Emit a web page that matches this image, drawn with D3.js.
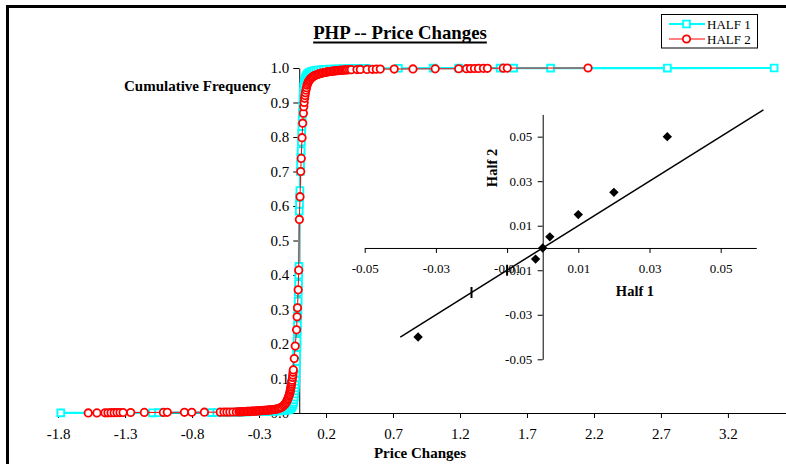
<!DOCTYPE html>
<html>
<head>
<meta charset="utf-8">
<script src="https://cdn.jsdelivr.net/npm/d3@7"></script>
<style>
  body { margin: 0; background: #fff; }
  svg { display: block; font-family: "Liberation Serif", "Times New Roman", serif; }
</style>
</head>
<body>
<svg id="chart" width="786" height="464"></svg>
<script>
// ---- Main chart: cumulative frequency of price changes ----
const xTicks = [-1.8, -1.3, -0.8, -0.3, 0.2, 0.7, 1.2, 1.7, 2.2, 2.7, 3.2];
const yTicks = [0, 0.1, 0.2, 0.3, 0.4, 0.5, 0.6, 0.7, 0.8, 0.9, 1.0];
const seriesNames = ["HALF 1", "HALF 2"];

// HALF 1: distinct price changes and their cumulative frequency
const half1X = [
  -1.78, -1.095, -1.05, -0.655, -0.615, -0.56, -0.51, -0.475,
  -0.45, -0.43, -0.41, -0.39, -0.37, -0.35, -0.33, -0.31, -0.29, -0.27, -0.25, -0.23,
  -0.21, -0.19, -0.17, -0.15, -0.13, -0.115, -0.1, -0.09, -0.08, -0.072, -0.065, -0.058,
  -0.052, -0.047, -0.043, -0.04, -0.037, -0.035, -0.033, -0.031, -0.029, -0.027, -0.025,
  -0.024, -0.022, -0.02, -0.019, -0.017, -0.016, -0.014, -0.013, -0.011, -0.01, -0.008,
  -0.007, -0.005, -0.004, -0.002, 0.0, 0.002, 0.003, 0.005, 0.008, 0.01, 0.012, 0.014,
  0.016, 0.018, 0.02, 0.022, 0.024, 0.026, 0.028, 0.03,
  0.033, 0.036, 0.04, 0.045, 0.05, 0.056, 0.062, 0.07, 0.078, 0.087, 0.097, 0.11, 0.125,
  0.14, 0.16, 0.18, 0.2, 0.23, 0.26, 0.29, 0.32, 0.36, 0.39, 0.42, 0.46, 0.5,
  0.74, 1.0, 1.19, 1.5, 1.6, 1.876, 2.748, 3.545
];
const half1Cum = [
  0.0003, 0.0006, 0.0009, 0.0012, 0.0015, 0.0018, 0.0021, 0.0024,
  0.0028, 0.003, 0.0032, 0.0034, 0.0036, 0.0038, 0.004, 0.0042, 0.0044, 0.0046, 0.0048, 0.005,
  0.0052, 0.0055, 0.0058, 0.0062, 0.0067, 0.0073, 0.008, 0.0088, 0.0098, 0.011, 0.013, 0.016,
  0.02, 0.025, 0.031, 0.038, 0.046, 0.055, 0.064, 0.073, 0.082, 0.092, 0.102,
  0.115, 0.13, 0.15, 0.17, 0.19, 0.21, 0.235, 0.255, 0.28, 0.30, 0.325,
  0.35, 0.375, 0.40, 0.425, 0.585, 0.605, 0.625, 0.645, 0.70, 0.72, 0.74, 0.76,
  0.785, 0.81, 0.83, 0.85, 0.87, 0.89, 0.91, 0.93,
  0.945, 0.955, 0.963, 0.97, 0.975, 0.979, 0.982, 0.985, 0.987, 0.989, 0.9905, 0.992, 0.9932,
  0.9942, 0.995, 0.9957, 0.9963, 0.9968, 0.9972, 0.9976, 0.9979, 0.9982, 0.9984, 0.9986, 0.9988, 0.999,
  0.9992, 0.9994, 0.9995, 0.9996, 0.9997, 0.9998, 0.9999, 1.0
];

// HALF 2: distinct price changes and their cumulative frequency
const half2X = [
  -1.575, -1.51, -1.45, -1.428, -1.405, -1.382, -1.36, -1.338, -1.315, -1.258, -1.156,
  -1.014, -0.985, -0.857, -0.802, -0.708, -0.59, -0.562, -0.54, -0.518, -0.495, -0.47,
  -0.45, -0.44, -0.43, -0.42, -0.41, -0.40, -0.39, -0.38, -0.37, -0.36, -0.35, -0.34,
  -0.33, -0.32, -0.31, -0.30, -0.29, -0.28, -0.27, -0.26, -0.25, -0.24, -0.23, -0.22,
  -0.21, -0.20, -0.19, -0.18, -0.17, -0.16, -0.15, -0.14, -0.13, -0.12, -0.112, -0.105,
  -0.099, -0.094, -0.089, -0.085, -0.081, -0.077, -0.074, -0.071, -0.068, -0.066, -0.064,
  -0.062, -0.06, -0.058, -0.056, -0.054,
  -0.05, -0.048, -0.046, -0.044, -0.037, -0.03, -0.02, -0.016, -0.013, -0.008, -0.004,
  0.001, 0.006, 0.011, 0.015, 0.021, 0.026, 0.031, 0.034, 0.037,
  0.04, 0.043, 0.046, 0.05, 0.054, 0.058, 0.063, 0.068, 0.074, 0.08, 0.087, 0.094, 0.102,
  0.11, 0.12, 0.13, 0.14, 0.15, 0.16, 0.17, 0.18, 0.19, 0.2, 0.21, 0.22, 0.23, 0.24, 0.25,
  0.26, 0.27, 0.28, 0.29, 0.30, 0.31, 0.32, 0.33, 0.34, 0.35, 0.36, 0.375,
  0.389, 0.431, 0.456, 0.506, 0.546, 0.575, 0.605, 0.709, 0.849, 1.015, 1.19, 1.248,
  1.278, 1.308, 1.338, 1.375, 1.405, 1.523, 1.553, 2.156
];
const half2Cum = [
  0.0002, 0.0003, 0.0005, 0.0006, 0.0008, 0.0009, 0.0011, 0.0012, 0.0014, 0.0015, 0.0017,
  0.0018, 0.0019, 0.0021, 0.0022, 0.0023, 0.0025, 0.0026, 0.0027, 0.0028, 0.0029, 0.0031,
  0.0033, 0.0035, 0.0037, 0.0039, 0.0041, 0.0043, 0.0045, 0.0047, 0.0049, 0.0051, 0.0053, 0.0055,
  0.0057, 0.0059, 0.0061, 0.0063, 0.0066, 0.0069, 0.0072, 0.0075, 0.0078, 0.0081, 0.0085, 0.0089,
  0.0093, 0.0097, 0.0102, 0.0107, 0.0113, 0.012, 0.0132, 0.015, 0.017, 0.02, 0.023, 0.026,
  0.03, 0.033, 0.037, 0.041, 0.045, 0.049, 0.053, 0.057, 0.062, 0.066, 0.07,
  0.075, 0.08, 0.085, 0.09, 0.095,
  0.103, 0.11, 0.118, 0.125, 0.158, 0.194, 0.241, 0.279, 0.305, 0.357, 0.414,
  0.561, 0.627, 0.70, 0.738, 0.798, 0.84, 0.869, 0.888, 0.90,
  0.912, 0.92, 0.928, 0.936, 0.943, 0.95, 0.955, 0.96, 0.964, 0.967, 0.97, 0.9725, 0.975,
  0.977, 0.979, 0.9805, 0.982, 0.9832, 0.9843, 0.9853, 0.9862, 0.987, 0.9878, 0.9885, 0.9892, 0.9898, 0.9904, 0.9909,
  0.9914, 0.9918, 0.9922, 0.9926, 0.993, 0.9933, 0.9936, 0.9939, 0.9942, 0.9945, 0.9948, 0.995,
  0.9952, 0.9955, 0.9958, 0.996, 0.9963, 0.9966, 0.9968, 0.997, 0.9973, 0.9976, 0.9978, 0.998,
  0.9983, 0.9985, 0.9988, 0.999, 0.9992, 0.9995, 0.9997, 1.0
];

// ---- Inset: quantile comparison of the two halves ----
const qqTicks = [-0.05, -0.03, -0.01, 0.01, 0.03, 0.05];
const qqHalf1 = [-0.035, -0.002, 0.0, 0.002, 0.01, 0.02, 0.035];
const qqHalf2 = [-0.04, -0.005, 0.0, 0.005, 0.015, 0.025, 0.05];
const diagLine = [-0.04, 0.062];          // equal-quantile reference line y = x
const diagMarks = [-0.02, -0.01];         // dash marks sitting on the line

const FONT = "'Liberation Serif', 'Times New Roman', serif";
const CYAN = "#00FFFF", RED = "#FF0000";

const svg = d3.select("#chart");

// chart frame
svg.append("rect")
  .attr("x", 7.5).attr("y", 6.5).attr("width", 820).attr("height", 520)
  .attr("fill", "none").attr("stroke", "#000").attr("stroke-width", 3);

const x = d3.scaleLinear().domain([-1.8, 3.7]).range([58.1, 794.9]);
const y = d3.scaleLinear().domain([0, 1]).range([413, 68]);

function styleAxis(g, size) {
  g.attr("font-family", FONT).attr("font-size", size);
  g.selectAll("path.domain").attr("stroke", "#000");
  g.selectAll(".tick line").attr("stroke", "#000");
  g.selectAll(".tick text").attr("fill", "#000");
}

const gx = svg.append("g")
  .attr("transform", `translate(0,${y(0)})`)
  .call(d3.axisBottom(x).tickValues(xTicks).tickFormat(d => d.toFixed(1))
    .tickSize(5).tickSizeOuter(0).tickPadding(10.5));
styleAxis(gx, 15);

const gy = svg.append("g")
  .attr("transform", `translate(${x(0)},0)`)
  .call(d3.axisLeft(y).tickValues(yTicks).tickFormat(d => d.toFixed(1))
    .tickSize(6).tickSizeOuter(0).tickPadding(4));
styleAxis(gy, 15);

// axis titles
svg.append("text").attr("x", 124).attr("y", 91)
  .attr("font-family", FONT).attr("font-size", 15).attr("font-weight", "bold")
  .text("Cumulative Frequency");
svg.append("text").attr("x", 420).attr("y", 458).attr("text-anchor", "middle")
  .attr("font-family", FONT).attr("font-size", 15).attr("font-weight", "bold")
  .text("Price Changes");

// title with underline
const title = svg.append("text").attr("x", 400).attr("y", 38.5).attr("text-anchor", "middle")
  .attr("font-family", FONT).attr("font-size", 18.8).attr("font-weight", "bold")
  .text("PHP -- Price Changes");
const tb = title.node().getBBox();
svg.append("line").attr("x1", tb.x).attr("x2", tb.x + tb.width)
  .attr("y1", 42.5).attr("y2", 42.5).attr("stroke", "#000").attr("stroke-width", 2);

// series
const half1 = half1X.map((v, i) => [v, half1Cum[i]]);
const half2 = half2X.map((v, i) => [v, half2Cum[i]]);
const line = d3.line().x(d => x(d[0])).y(d => y(d[1]));

const squareSym = d3.symbol().type(d3.symbolSquare).size(46);
const circleR = 3.7;

svg.append("path").datum(half1).attr("d", line)
  .attr("fill", "none").attr("stroke", CYAN).attr("stroke-width", 2.2);
svg.append("g").selectAll("path").data(half1).join("path")
  .attr("d", squareSym)
  .attr("transform", d => `translate(${x(d[0])},${y(d[1])})`)
  .attr("fill", "#fff").attr("stroke", CYAN).attr("stroke-width", 1.9);

svg.append("path").datum(half2).attr("d", line)
  .attr("fill", "none").attr("stroke", RED).attr("stroke-width", 1);
svg.append("g").selectAll("circle").data(half2).join("circle")
  .attr("cx", d => x(d[0])).attr("cy", d => y(d[1])).attr("r", circleR)
  .attr("fill", "#fff").attr("stroke", RED).attr("stroke-width", 1.8);

// legend
const lg = svg.append("g");
lg.append("rect").attr("x", 661.5).attr("y", 14.5).attr("width", 96).attr("height", 33.5)
  .attr("fill", "#fff").attr("stroke", "#000").attr("stroke-width", 1);
seriesNames.forEach((name, i) => {
  const cy = 24 + i * 15;
  const color = i === 0 ? CYAN : RED;
  lg.append("line").attr("x1", 669).attr("x2", 705).attr("y1", cy).attr("y2", cy)
    .attr("stroke", color).attr("stroke-width", i === 0 ? 2.2 : 1);
  if (i === 0) {
    lg.append("path").attr("d", squareSym).attr("transform", `translate(686.5,${cy})`)
      .attr("fill", "#fff").attr("stroke", CYAN).attr("stroke-width", 1.9);
  } else {
    lg.append("circle").attr("cx", 686.5).attr("cy", cy).attr("r", circleR)
      .attr("fill", "#fff").attr("stroke", RED).attr("stroke-width", 1.8);
  }
  lg.append("text").attr("x", 707).attr("y", cy + 4.5)
    .attr("font-family", FONT).attr("font-size", 13).text(name);
});

// ---- inset quantile plot ----
const qx = d3.scaleLinear().domain([-0.05, 0.06]).range([364.7, 756.3]);
const qy = d3.scaleLinear().domain([-0.05, 0.06]).range([359.3, 114.4]);

const qgx = svg.append("g").attr("transform", `translate(0,${qy(0)})`)
  .call(d3.axisBottom(qx).tickValues(qqTicks).tickFormat(d => d.toFixed(2))
    .tickSize(5).tickSizeOuter(0).tickPadding(11));
styleAxis(qgx, 13);
const qgy = svg.append("g").attr("transform", `translate(${qx(0)},0)`)
  .call(d3.axisLeft(qy).tickValues(qqTicks).tickFormat(d => d.toFixed(2))
    .tickSize(5).tickSizeOuter(0).tickPadding(5.5));
styleAxis(qgy, 13);

svg.append("text").attr("transform", "translate(497,168) rotate(-90)")
  .attr("text-anchor", "middle")
  .attr("font-family", FONT).attr("font-size", 14.5).attr("font-weight", "bold")
  .text("Half 2");
svg.append("text").attr("x", 635).attr("y", 296).attr("text-anchor", "middle")
  .attr("font-family", FONT).attr("font-size", 14.5).attr("font-weight", "bold")
  .text("Half 1");

svg.append("line")
  .attr("x1", qx(diagLine[0])).attr("y1", qy(diagLine[0]))
  .attr("x2", qx(diagLine[1])).attr("y2", qy(diagLine[1]))
  .attr("stroke", "#000").attr("stroke-width", 1.5);
svg.append("g").selectAll("line").data(diagMarks).join("line")
  .attr("x1", d => qx(d)).attr("x2", d => qx(d))
  .attr("y1", d => qy(d) - 5.5).attr("y2", d => qy(d) + 5.5)
  .attr("stroke", "#000").attr("stroke-width", 2);

const diamond = d3.symbol().type(d3.symbolSquare).size(44);
svg.append("g").selectAll("path").data(qqHalf1.map((v, i) => [v, qqHalf2[i]])).join("path")
  .attr("d", diamond)
  .attr("transform", d => `translate(${qx(d[0])},${qy(d[1])}) rotate(45)`)
  .attr("fill", "#000");
</script>
</body>
</html>
